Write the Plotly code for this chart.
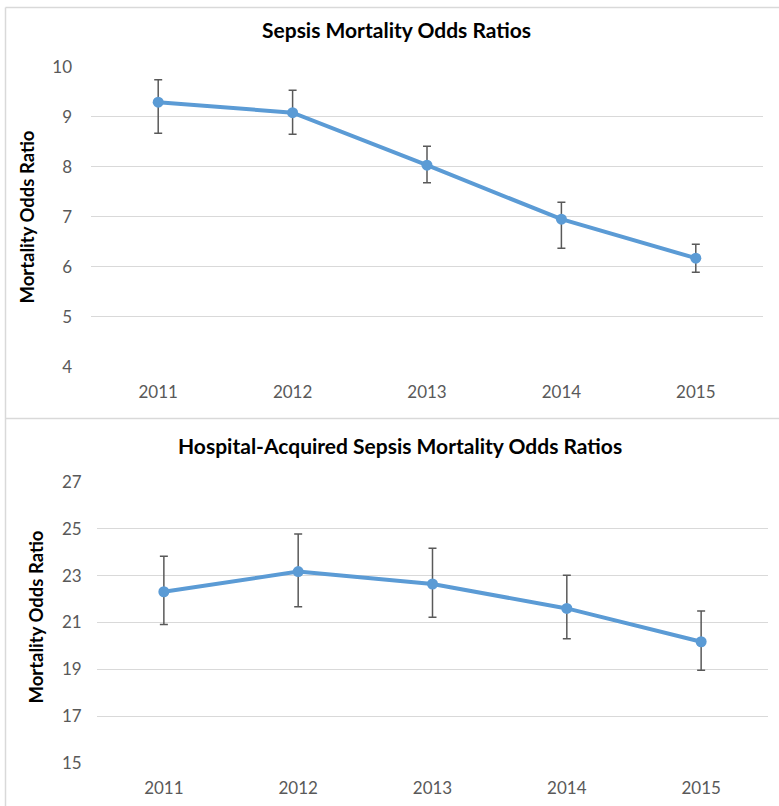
import plotly.graph_objects as go

W, H = 779, 806

years = ["2011", "2012", "2013", "2014", "2015"]

sepsis_or = [9.29, 9.08, 8.03, 6.95, 6.17]
sepsis_hi = [9.74, 9.53, 8.41, 7.29, 6.45]
sepsis_lo = [8.67, 8.65, 7.68, 6.37, 5.89]

hosp_or = [22.31, 23.17, 22.64, 21.60, 20.18]
hosp_hi = [23.82, 24.77, 24.16, 23.01, 21.49]
hosp_lo = [20.92, 21.67, 21.22, 20.31, 18.96]

title_top = "Sepsis Mortality Odds Ratios"
title_bot = "Hospital-Acquired Sepsis Mortality Odds Ratios"
ytitle = "Mortality Odds Ratio"

LINE = "#5B9BD5"
ERR = "#595959"
GRID = "#D9D9D9"
FONT = "Lato"


def px(x):
    return x / W


def py(y):
    return 1 - y / H


def trace(vals, hi, lo, xa, ya):
    return go.Scatter(
        x=years, y=vals, mode="lines+markers",
        line=dict(color=LINE, width=4),
        marker=dict(color=LINE, size=11),
        error_y=dict(type="data", symmetric=False,
                     array=[h - v for h, v in zip(hi, vals)],
                     arrayminus=[v - l for v, l in zip(vals, lo)],
                     color=ERR, thickness=1.5, width=4),
        xaxis=xa, yaxis=ya, showlegend=False, hoverinfo="y",
    )


fig = go.Figure()
fig.add_trace(trace(sepsis_or, sepsis_hi, sepsis_lo, "x", "y"))
fig.add_trace(trace(hosp_or, hosp_hi, hosp_lo, "x2", "y2"))

tickfont = dict(family=FONT, size=17, color="#595959")
xcommon = dict(type="category", range=[-0.5, 4.5], showgrid=False, zeroline=False,
               showline=False, ticks="", tickfont=tickfont, fixedrange=True,
               automargin=False, ticklabelstandoff=13)
ycommon = dict(showgrid=True, gridcolor=GRID, gridwidth=1, zeroline=False,
               showline=False, ticks="", tickfont=tickfont, fixedrange=True,
               automargin=False)

fig.update_layout(
    template="none",
    width=W, height=H,
    margin=dict(l=0, r=0, t=0, b=0, pad=0, autoexpand=False),
    paper_bgcolor="white", plot_bgcolor="white",
    xaxis=dict(domain=[px(91), px(763)], anchor="y", **xcommon),
    yaxis=dict(domain=[py(366.7), py(66.7)], range=[4, 10], dtick=1, anchor="x",
               ticklabelstandoff=18, **ycommon),
    xaxis2=dict(domain=[px(96.7), px(768.3)], anchor="y2", **xcommon),
    yaxis2=dict(domain=[py(763.3), py(481.7)], range=[15, 27], dtick=2, tick0=15, anchor="x2",
                ticklabelstandoff=14, **ycommon),
    font=dict(family=FONT),
)

annots = [
    dict(text="<b>%s</b>" % title_top, x=px(396.5), y=py(29.5), font=dict(size=21, color="#000000")),
    dict(text="<b>%s</b>" % title_bot, x=px(399.5), y=py(445), font=dict(size=21, color="#000000")),
    dict(text="<b>%s</b>" % ytitle, x=px(27), y=py(217.5), textangle=-90, font=dict(size=18.5, color="#000000")),
    dict(text="<b>%s</b>" % ytitle, x=px(35), y=py(617.5), textangle=-90, font=dict(size=18.5, color="#000000")),
]
for a in annots:
    fig.add_annotation(xref="paper", yref="paper", xanchor="center", yanchor="middle",
                       showarrow=False, **a)

border = dict(color="#D9D9D9", width=1.5)
fig.add_shape(type="line", xref="paper", yref="paper", x0=px(5.5), x1=px(779), y0=py(7.5), y1=py(7.5), line=border)
fig.add_shape(type="line", xref="paper", yref="paper", x0=px(5.5), x1=px(779), y0=py(418.5), y1=py(418.5), line=border)
fig.add_shape(type="line", xref="paper", yref="paper", x0=px(5.5), x1=px(5.5), y0=py(7.5), y1=py(806), line=border)

fig.write_html("out.html", config={"displayModeBar": False},
               post_script="document.body.style.margin='0';document.body.style.padding='0';document.body.style.overflow='hidden';")
